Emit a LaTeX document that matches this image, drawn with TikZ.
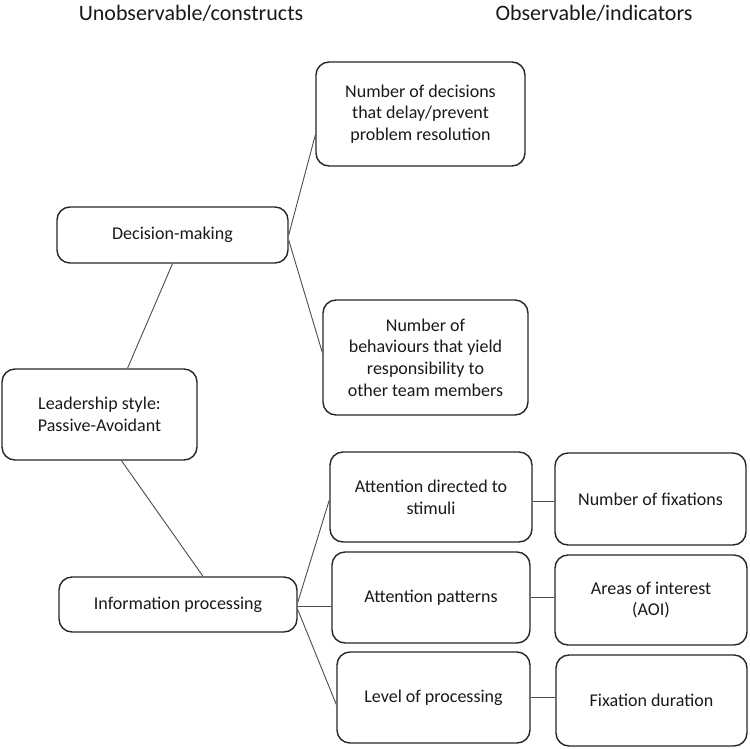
\documentclass[tikz,border=0pt]{standalone}
\usepackage{fontspec}
\setmainfont{Carlito}

\begin{document}
\begin{tikzpicture}[x=1pt, y=-1pt,
    box/.style={draw=black!85, line width=1.4pt, rounded corners=13pt, align=center,
      inner sep=0pt, text=black!90, font=\fontsize{18}{21.7}\selectfont},
    link/.style={draw=black!70, line width=0.9pt},
    head/.style={text=black!90, font=\fontsize{22}{26}\selectfont}]
                \useasboundingbox (0,0) rectangle (750,748);
                % column titles
                \node[head] (hu) at (191,13) {Unobservable/constructs};
                \node[head] (ho) at (594,13) {Observable/indicators};
                % constructs
                \node[box, minimum width=195pt, minimum height=91pt] (lead) at (99.5,414.5) {Leadership style:\\Passive-Avoidant};
                \node[box, minimum width=231pt, minimum height=56pt] (dm) at (172.5,235) {Decision-making};
                \node[box, minimum width=238pt, minimum height=55pt] (ip) at (178,604.5) {Information processing};
                \node[box, minimum width=209pt, minimum height=104pt] (nd) at (420.5,114) {Number of decisions\\that delay/prevent\\problem resolution};
                \node[box, minimum width=205pt, minimum height=115pt] (nb) at (425.5,357.5) {Number of\\behaviours that yield\\responsibility to\\other team members};
                \node[box, minimum width=202pt, minimum height=90pt] (ad) at (431,497) {Attention directed to\\stimuli};
                \node[box, minimum width=198pt, minimum height=91pt] (ap) at (431,597.5) {Attention patterns};
                \node[box, minimum width=193pt, minimum height=91pt] (lp) at (433.5,697.5) {Level of processing};
                % indicators
                \node[box, minimum width=191pt, minimum height=92pt] (nf) at (650.5,499) {Number of fixations};
                \node[box, minimum width=192pt, minimum height=90pt] (aoi) at (651,600) {Areas of interest\\(AOI)};
                \node[box, minimum width=191pt, minimum height=91pt] (fd) at (651.5,700.5) {Fixation duration};
                % links
                \draw[link] (dm.south) -- ([xshift=28pt]lead.north);
                \draw[link] ([xshift=22pt]lead.south) -- ([xshift=25pt]ip.north);
                \draw[link] (dm.east) -- ([yshift=-21pt]nd.west);
                \draw[link] ([yshift=-5pt]dm.east) -- ([yshift=5pt]nb.west);
                \draw[link] ([yshift=2pt]ip.east) -- ([yshift=-3pt]ad.west);
                \draw[link] ([yshift=-1.5pt]ip.east) -- ([yshift=-1.5pt]ip.east -| ap.west);
                \draw[link] ([yshift=-5pt]ip.east) -- ([yshift=-7pt]lp.west);
                \draw[link] ([yshift=-4pt]ad.east) -- ([yshift=-4pt]ad.east -| nf.west);
                \draw[link] (ap.east) -- (ap.east -| aoi.west);
                \draw[link] (lp.east) -- (lp.east -| fd.west);
            \end{tikzpicture}
\end{document}
